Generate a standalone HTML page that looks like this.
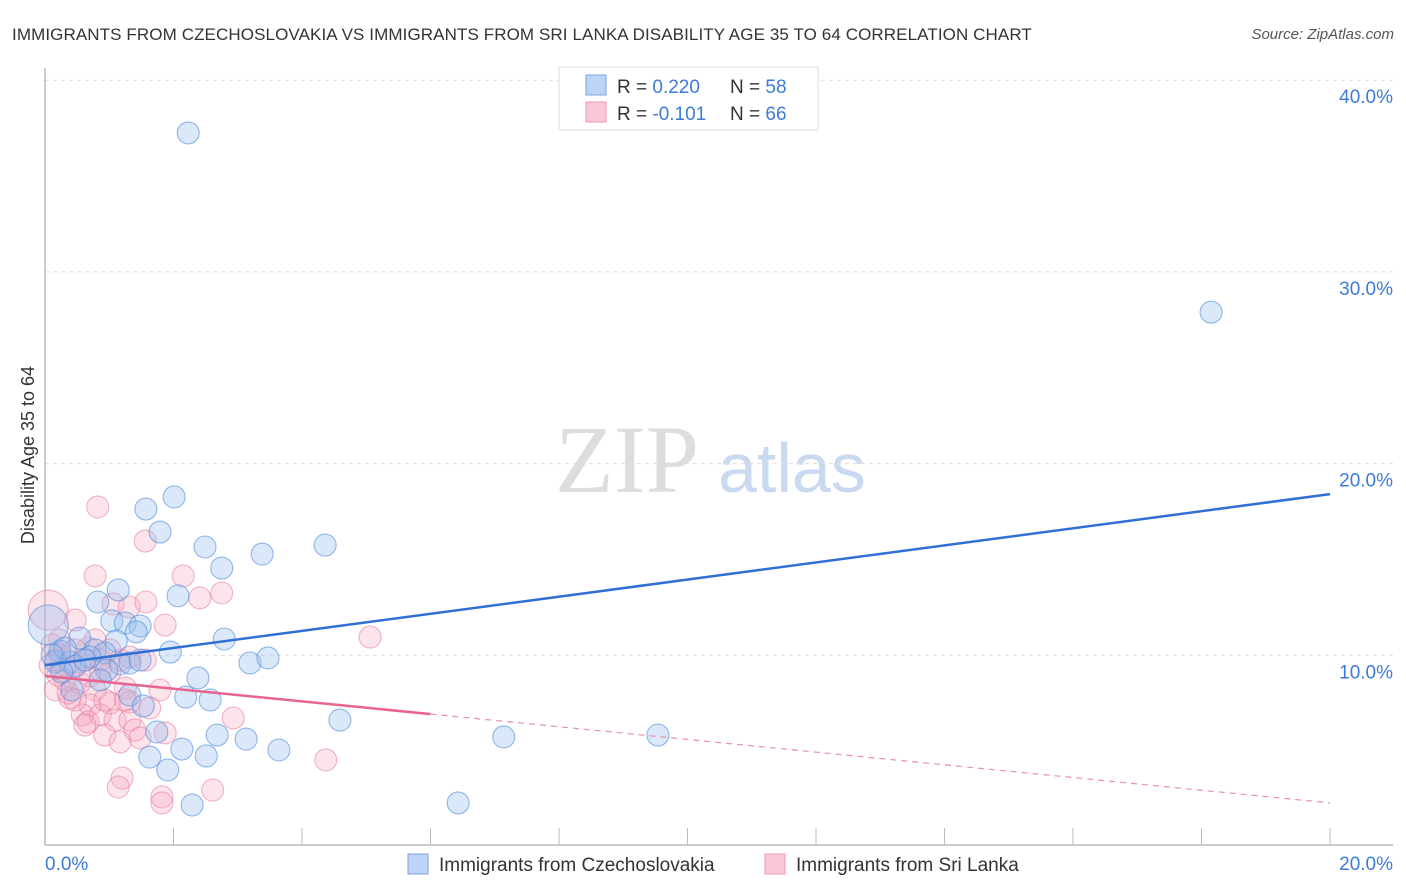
<!DOCTYPE html>
<html><head><meta charset="utf-8"><style>
body{margin:0;background:#fff;font-family:"Liberation Sans",sans-serif;}
#wrap{position:relative;width:1406px;height:892px;overflow:hidden;}
</style></head><body>
<div id="wrap">
<svg id="svg" width="1406" height="892" xmlns="http://www.w3.org/2000/svg">
<text x="12" y="40" font-size="17" fill="#333" letter-spacing="0.1">IMMIGRANTS FROM CZECHOSLOVAKIA VS IMMIGRANTS FROM SRI LANKA DISABILITY AGE 35 TO 64 CORRELATION CHART</text>
<text x="1394" y="39" font-size="15" fill="#555" font-style="italic" text-anchor="end">Source: ZipAtlas.com</text>
<text x="555" y="492" font-size="96" fill="#ddd" font-family="Liberation Serif">ZIP</text>
<text x="718" y="492" font-size="70" fill="#c9d9f0">atlas</text>
<text x="34" y="455" font-size="18" fill="#333" text-anchor="middle" transform="rotate(-90 34 455)">Disability Age 35 to 64</text>
<g id="grid"></g><g id="pts"></g><g id="lines"></g>
<g>
<rect x="559" y="67" width="259" height="63" fill="#fff" stroke="#ddd"/>
<rect x="586" y="75" width="20" height="20" fill="#bcd4f6" stroke="#7aa6e6"/>
<rect x="586" y="102" width="20" height="20" fill="#f9c8d7" stroke="#ee9ab6"/>
<text x="617" y="93" font-size="19" fill="#333">R = <tspan fill="#3d7bd9">0.220</tspan><tspan x="730">N = </tspan><tspan fill="#3d7bd9">58</tspan></text>
<text x="617" y="120" font-size="19" fill="#333">R = <tspan fill="#3d7bd9">-0.101</tspan><tspan x="730">N = </tspan><tspan fill="#3d7bd9">66</tspan></text>
</g>
<g>
<rect x="408" y="854" width="20" height="20" fill="#bcd4f6" stroke="#7aa6e6"/>
<text x="439" y="871" font-size="19" fill="#333">Immigrants from Czechoslovakia</text>
<rect x="765" y="854" width="20" height="20" fill="#f9c8d7" stroke="#ee9ab6"/>
<text x="796" y="871" font-size="19" fill="#333">Immigrants from Sri Lanka</text>
</g>
</svg>
</div>
<script>
const xTicks=[0,2,4,6,8,10,12,14,16,18,20];
const yTicks=[10,20,30,40];
const xLabels=["0.0%","20.0%"];
const blueX=[2.23,18.15,2.01,1.57,1.79,2.49,4.36,3.38,2.75,1.14,2.07,0.82,1.04,1.25,1.48,1.42,0.54,1.11,2.79,0.78,1.95,0.23,0.93,0.70,1.17,1.32,3.19,3.47,0.16,0.39,0.96,2.38,1.32,2.19,2.57,1.53,0.42,4.59,7.14,9.54,1.74,2.68,3.13,2.13,3.64,1.63,2.51,1.91,2.29,6.43,0.05,0.47,0.26,0.62,0.86,1.48,0.31,0.11];
const blueY=[37.25,27.9,18.26,17.63,16.43,15.65,15.75,15.28,14.55,13.41,13.1,12.78,11.79,11.68,11.53,11.22,10.9,10.75,10.85,10.28,10.17,10.22,10.12,9.91,9.55,9.6,9.6,9.86,9.65,9.65,9.23,8.82,7.93,7.82,7.67,7.36,8.19,6.62,5.74,5.84,6.0,5.84,5.63,5.11,5.06,4.69,4.75,4.02,2.19,2.3,11.58,9.44,9.13,9.75,8.71,9.75,10.38,10.02];
const pinkX=[0.82,1.56,0.78,2.15,2.75,2.41,1.06,1.31,1.57,1.87,0.47,0.05,0.23,0.67,5.06,0.44,0.08,0.2,0.31,0.54,0.70,0.86,1.01,1.17,1.32,1.56,0.16,0.39,0.78,1.25,0.70,1.01,1.32,1.79,0.36,0.58,0.86,1.09,1.32,0.67,1.63,0.93,1.17,1.40,1.87,2.93,4.37,1.2,1.14,1.82,1.82,2.61,0.62,0.23,0.47,0.78,1.01,0.11,0.17,0.31,0.86,0.47,1.25,1.48,0.62,0.93];
const pinkY=[17.74,15.96,14.14,14.14,13.25,12.99,12.68,12.52,12.78,11.58,11.84,12.36,10.8,10.38,10.95,9.39,9.49,8.97,8.71,8.56,8.92,9.23,9.13,9.75,9.91,9.75,8.19,7.77,8.19,8.29,7.41,7.51,7.56,8.19,8.03,6.89,6.89,6.62,6.62,6.52,7.25,5.84,5.48,6.1,5.95,6.73,4.54,3.6,3.13,2.61,2.3,2.97,9.75,10.02,10.28,10.8,10.28,10.54,9.75,9.49,9.75,7.67,7.67,5.69,6.36,7.67];
const blueTrend=[9.49,18.41];
const pinkTrend=[8.92,2.3];
const pinkSolidEnd=6;
const NS="http://www.w3.org/2000/svg";
const X=v=>45+v*64.25, Y=v=>847-v*19.17;
function mk(tag,attrs,parent){const e=document.createElementNS(NS,tag);for(const k in attrs)e.setAttribute(k,attrs[k]);parent.appendChild(e);return e;}
const grid=document.getElementById('grid'),pts=document.getElementById('pts'),lines=document.getElementById('lines');
yTicks.forEach(t=>{
 const l=mk('line',{x1:45,x2:1393,y1:Y(t),y2:Y(t),stroke:'#ddd','stroke-dasharray':'4,4'},grid);
 
 
 const tx=mk('text',{x:1393,y:Y(t)+23,'font-size':19,fill:'#3d7bd9','text-anchor':'end'},grid);
 tx.textContent=t.toFixed(1)+'%';
 
 
});
const ax=mk('line',{x1:45,x2:1393,y1:845,y2:845,stroke:'#bbb','stroke-width':1.5},grid);


const ay=mk('line',{x1:45,x2:45,y1:68,y2:845,stroke:'#bbb','stroke-width':1.5},grid);


xTicks.forEach(t=>{
 const l=mk('line',{x1:X(t),x2:X(t),y1:828,y2:845,stroke:'#bbb'},grid);
 
 
});
[[0,'start',xLabels[0]],[20,'end',xLabels[1]]].forEach(([v,a,s])=>{
 const tx=mk('text',{x:a==='start'?X(v):1393,y:870,'font-size':19,fill:'#3d7bd9','text-anchor':a},grid);
 tx.textContent=s;
 
 
});
function dots(xs,ys,fill,stroke,name){xs.forEach((x,i)=>{
 const r=(x<0.1&&ys[i]>11)?20:11;
 const c=mk('circle',{cx:X(x),cy:Y(ys[i]),r:r,fill:fill,stroke:stroke,'stroke-width':1.1},pts);
 
 
});}
dots(pinkX,pinkY,'rgba(245,165,190,0.3)','rgba(232,120,158,0.55)','sri-lanka-point');
dots(blueX,blueY,'rgba(150,188,238,0.35)','rgba(80,140,220,0.6)','czechoslovakia-point');
const bl=mk('line',{x1:X(0),y1:Y(blueTrend[0]),x2:X(20),y2:Y(blueTrend[1]),stroke:'#2f6fd6','stroke-width':2.5},lines);


const pm=pinkTrend[0]+(pinkTrend[1]-pinkTrend[0])*pinkSolidEnd/20;
const pl=mk('line',{x1:X(0),y1:Y(pinkTrend[0]),x2:X(pinkSolidEnd),y2:Y(pm),stroke:'#e8638f','stroke-width':2.5},lines);


const pd=mk('line',{x1:X(pinkSolidEnd),y1:Y(pm),x2:X(20),y2:Y(pinkTrend[1]),stroke:'#eb8fae','stroke-width':1.2,'stroke-dasharray':'6,5'},lines);


</script>
</body></html>
